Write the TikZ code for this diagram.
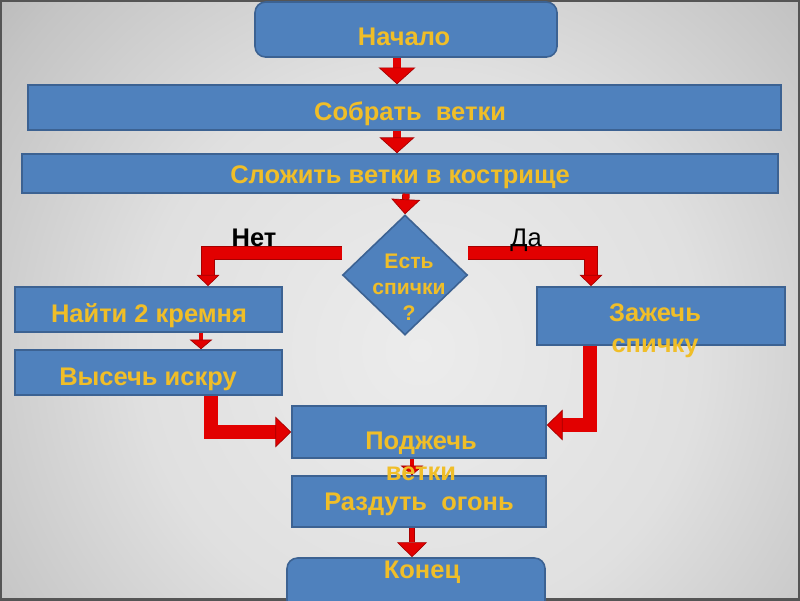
\documentclass[tikz,border=0pt]{standalone}
\usepackage{fontspec}
\setmainfont{Liberation Sans}
\usetikzlibrary{arrows.meta,shapes.geometric,fit}

\definecolor{boxblue}{RGB}{79,129,189}
\definecolor{boxedge}{RGB}{60,98,146}
\definecolor{txtgold}{RGB}{240,190,40}
\definecolor{arrred}{RGB}{226,0,0}
\definecolor{arrdark}{RGB}{165,0,0}
\definecolor{framegray}{RGB}{85,85,85}
\definecolor{bg0}{RGB}{236,236,236}
\definecolor{bg1}{RGB}{224,224,224}
\definecolor{bg2}{RGB}{196,196,196}
\definecolor{bg3}{RGB}{166,166,166}
\definecolor{bg4}{RGB}{150,150,150}

\pgfdeclareradialshading{bgglow}{\pgfpoint{0bp}{0bp}}{%
  color(0bp)=(bg0); color(14bp)=(bg1); color(25bp)=(bg2);
  color(34bp)=(bg3); color(42bp)=(bg4); color(50bp)=(bg4)}

\tikzset{
  box/.style={draw=boxedge, line width=0.9pt, fill=boxblue, inner sep=0pt},
  btext/.style={text=txtgold, font=\bfseries\fontsize{14.5}{17.5}\selectfont,
    inner sep=0pt, align=center},
  qtext/.style={text=txtgold, font=\bfseries\fontsize{12}{14.7}\selectfont,
    inner sep=0pt, align=center},
  arr/.style n args={3}{draw=arrdark, line width=0.4pt, double=arrred,
    double distance=#1, line join=miter,
    -{Triangle[length=#2, width=#3, color=arrdark, fill=arrred, line width=0.4pt]}},
}

\begin{document}
\begin{tikzpicture}[x=0.02cm,y=-0.02cm]
    \useasboundingbox (0,0) rectangle (800,600);
    \clip (0,0) rectangle (800,600);
    \shade[shading=bgglow] (-80,-150) rectangle (920,850);
    \draw[framegray, line width=2.3pt] (0,0) rectangle (800,600);

    % blocks
    \node[box, rounded corners=6pt, fit={(255,2) (557,57)}] (start) {};
    \foreach \nm/\xa/\ya/\xb/\yb in {gather/28/85/781/130, stack/22/154/778/193,
        flint/15/287/282/332, strike/15/350/282/395, match/537/287/785/345,
        light/292/406/546/458, blow/292/476/546/527}
        \node[box, fit={(\xa,\ya) (\xb,\yb)}] (\nm) {};
    \node[box, rounded corners=6pt, fit={(287,558) (545,615)}] (finish) {};
    \node[box, diamond, minimum width=2.5cm, minimum height=2.4cm] (ask) at (405,275) {};

    % arrows
    \draw[arr={4pt}{9.5pt}{21pt}] (397,0 |- start.south) -- (397,0 |- gather.north);
    \draw[arr={4pt}{9pt}{20pt}] (397,0 |- gather.south) -- (397,0 |- stack.north);
    \draw[arr={3.4pt}{8.5pt}{16.5pt}] (406,0 |- stack.south) -- (ask.north);
    \draw[arr={7pt}{6.5pt}{13pt}] (ask.west |- 0,253) -| (flint.north -| 208,0);
    \draw[arr={7pt}{6.5pt}{13pt}] (ask.east |- 0,253) -| (match.north -| 591,0);
    \draw[arr={1.8pt}{5.5pt}{13pt}] (201,0 |- flint.south) -- (201,0 |- strike.north);
    \draw[arr={7.5pt}{9pt}{17.5pt}] (strike.south -| 211,0) |- (light.west |- 0,432);
    \draw[arr={7.5pt}{9pt}{17.5pt}] (match.south -| 590,0) |- (light.east |- 0,425);
    \draw[arr={1.8pt}{5.5pt}{13pt}] (412,0 |- light.south) -- (412,0 |- blow.north);
    \draw[arr={2.8pt}{8.5pt}{17pt}] (412,0 |- blow.south) -- (412,0 |- finish.north);

    % texts
    \foreach \nm/\x/\y/\txt in {start/404/45/Начало, gather/410/120/Собрать~~ветки,
        stack/400/183/Сложить ветки в кострище, flint/149/322/Найти 2 кремня,
        strike/148/385/Высечь искру, blow/419/510/Раздуть~~огонь, finish/422/578/Конец}
        \node[btext, anchor=base] (t-\nm) at (\x,\y) {\txt};
    \node[btext, anchor=base] (t-match) at (655,352) {Зажечь\\спичку};
    \node[btext, anchor=base] (t-light) at (421,480) {Поджечь\\ветки};
    \node[qtext, anchor=base] (t-ask) at (409,320) {Есть\\спички\\?};
    \node[font=\bfseries\fontsize{14.5}{17}\selectfont, anchor=base, inner sep=0pt] (no) at (254,246) {Нет};
    \node[font=\fontsize{14.5}{17}\selectfont, anchor=base, inner sep=0pt] (yes) at (526,246) {Да};
\end{tikzpicture}
\end{document}
